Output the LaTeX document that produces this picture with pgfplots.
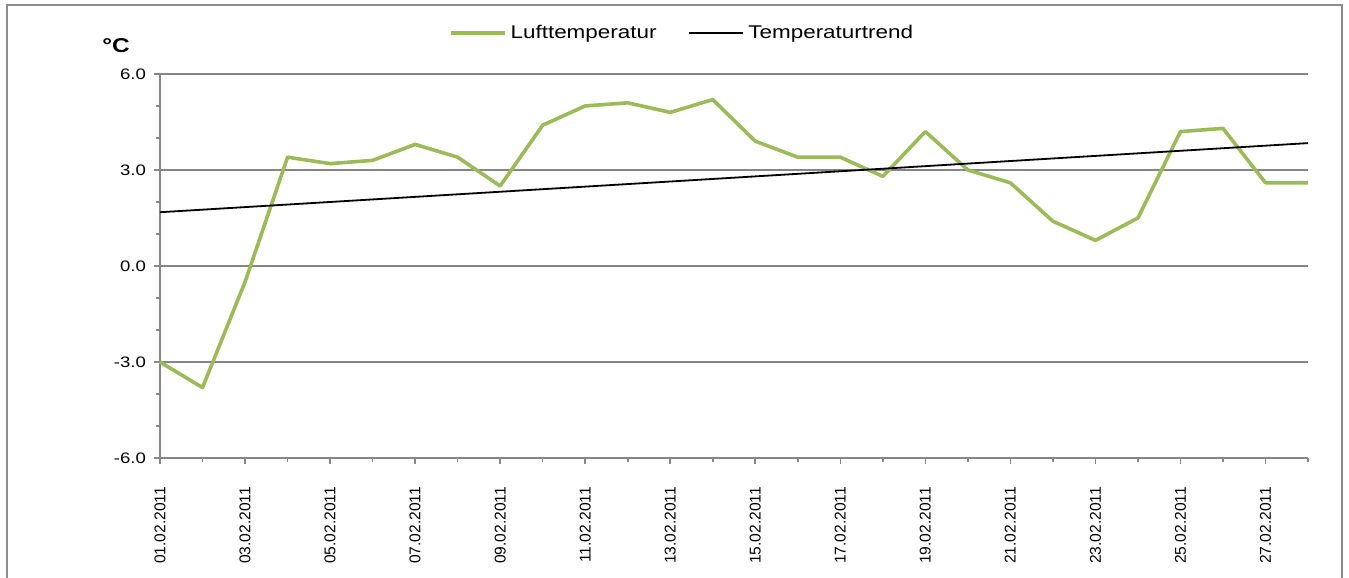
\documentclass[border=0pt]{standalone}
\usepackage{fontspec}
\setmainfont{Liberation Sans}
\newfontfamily\widefont[FakeStretch=1.22]{Liberation Sans}
\usepackage{pgfplots}
\pgfplotsset{compat=1.18}
\definecolor{lgreen}{RGB}{155,187,89}
\definecolor{gridgray}{RGB}{134,134,134}
\definecolor{framegray}{RGB}{140,140,140}
\pgfplotstableread{
day temp
1 -3.0
2 -3.8
3 -0.5
4 3.4
5 3.2
6 3.3
7 3.8
8 3.4
9 2.5
10 4.4
11 5.0
12 5.1
13 4.8
14 5.2
15 3.9
16 3.4
17 3.4
18 2.8
19 4.2
20 3.0
21 2.6
22 1.4
23 0.8
24 1.5
25 4.2
26 4.3
27 2.6
28 2.6
}\temps
\pgfplotstableread{
day trend
1 1.68
28 3.84
}\trend
\begin{document}
\begin{tikzpicture}
\path[use as bounding box] (0pt,0pt) rectangle (674.5pt,289pt);
\draw[framegray, line width=1pt] (3.5pt,-2pt) -- (3.5pt,286.5pt) -- (671pt,286.5pt) -- (671pt,-2pt);
\node[font=\widefont\bfseries\fontsize{10}{11}\selectfont, inner sep=0pt] at (58pt,266pt) {°C};
\begin{axis}[
  at={(80pt,60pt)}, anchor=south west,
  scale only axis, width=574pt, height=192pt,
  xmin=1, xmax=28, ymin=-6, ymax=6,
  axis x line*=bottom, axis y line*=left,
  axis line style={gridgray, line width=0.8pt, -},
  ytick={-6,-3,0,3,6},
  yticklabels={-6.0,-3.0,0.0,3.0,6.0},
  minor ytick={-5,-4,-2,-1,1,2,4,5},
  xtick={1,3,...,27},
  minor xtick={2,4,...,28},
  xticklabels={01.02.2011,03.02.2011,05.02.2011,07.02.2011,09.02.2011,11.02.2011,13.02.2011,15.02.2011,17.02.2011,19.02.2011,21.02.2011,23.02.2011,25.02.2011,27.02.2011},
  tick align=outside,
  major tick length=3pt, minor tick length=2pt,
  tick style={gridgray, line width=0.8pt},
  ymajorgrids,
  major grid style={gridgray, line width=0.8pt},
  yticklabel style={font=\widefont\fontsize{7.6}{8}\selectfont, xshift=-0.5pt},
  xticklabel style={font=\fontsize{7.8}{8}\selectfont, rotate=90, anchor=east},
  xticklabel shift=8pt,
  legend columns=2,
  legend style={at={(0.4556,1.106)}, anchor=center, draw=none, fill=none,
    font=\widefont\fontsize{9.2}{10}\selectfont,
    /tikz/every even column/.append style={column sep=14pt}},
  legend image code/.code={\draw[#1] (0pt,0pt) -- (27pt,0pt);},
  clip=false,
]
\addplot[lgreen, line width=1.8pt, line join=round] table[x=day, y=temp] {\temps};
\addlegendentry{Lufttemperatur}
\addplot[black, line width=0.9pt] table[x=day, y=trend] {\trend};
\addlegendentry{Temperaturtrend}
\end{axis}
\end{tikzpicture}
\end{document}
